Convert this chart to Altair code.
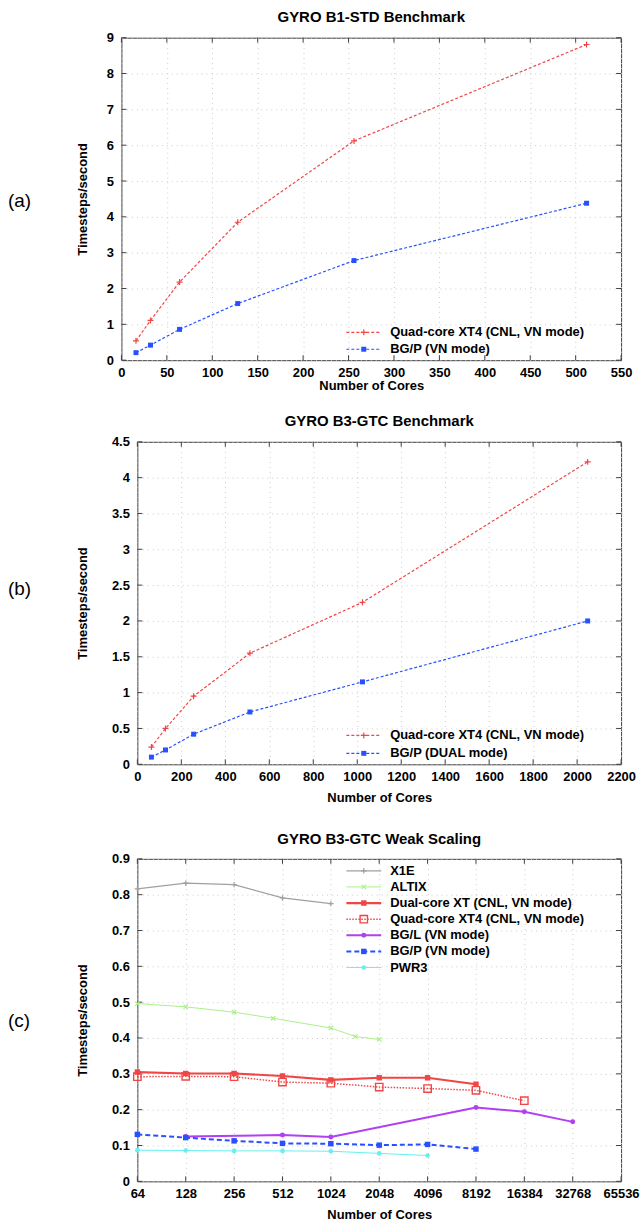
import altair as alt
import pandas as pd

FONT = "Liberation Sans"

# ---------------- data ----------------
# (a) GYRO B1-STD Benchmark
A_CORES = [16, 32, 64, 128, 256, 512]
A_XT4 = [0.54, 1.11, 2.18, 3.85, 6.12, 8.81]
A_BGP = [0.21, 0.42, 0.86, 1.58, 2.78, 4.38]
A_XTICKS = [0, 50, 100, 150, 200, 250, 300, 350, 400, 450, 500, 550]
A_YTICKS = [0, 1, 2, 3, 4, 5, 6, 7, 8, 9]
A_LABELS = ["Quad-core XT4 (CNL, VN mode)", "BG/P (VN mode)"]

# (b) GYRO B3-GTC Benchmark
B_CORES = [64, 128, 256, 512, 1024, 2048]
B_XT4 = [0.24, 0.50, 0.95, 1.55, 2.26, 4.22]
B_BGP = [0.10, 0.20, 0.42, 0.73, 1.15, 2.00]
B_XTICKS = [0, 200, 400, 600, 800, 1000, 1200, 1400, 1600, 1800, 2000, 2200]
B_YTICKS = [0, 0.5, 1, 1.5, 2, 2.5, 3, 3.5, 4, 4.5]
B_LABELS = ["Quad-core XT4 (CNL, VN mode)", "BG/P (DUAL mode)"]

# (c) GYRO B3-GTC Weak Scaling
C_X1E_CORES = [64, 128, 256, 512, 1024]
C_X1E = [0.816, 0.832, 0.828, 0.791, 0.775]
C_ALTIX_CORES = [64, 128, 256, 448, 1024, 1456, 2048]
C_ALTIX = [0.496, 0.487, 0.472, 0.455, 0.428, 0.404, 0.396]
C_DUAL_CORES = [64, 128, 256, 512, 1024, 2048, 4096, 8192]
C_DUAL = [0.305, 0.301, 0.301, 0.294, 0.283, 0.289, 0.289, 0.271]
C_QUAD_CORES = [64, 128, 256, 512, 1024, 2048, 4096, 8192, 16384]
C_QUAD = [0.292, 0.293, 0.292, 0.277, 0.274, 0.263, 0.259, 0.254, 0.225]
C_BGL_CORES = [128, 512, 1024, 8192, 16384, 32768]
C_BGL = [0.125, 0.129, 0.124, 0.206, 0.194, 0.166]
C_BGP_CORES = [64, 128, 256, 512, 1024, 2048, 4096, 8192]
C_BGP = [0.131, 0.122, 0.113, 0.106, 0.105, 0.101, 0.103, 0.090]
C_PWR3_CORES = [64, 128, 256, 512, 1024, 2048, 4096]
C_PWR3 = [0.087, 0.086, 0.085, 0.085, 0.084, 0.078, 0.072]
C_XTICKS = [64, 128, 256, 512, 1024, 2048, 4096, 8192, 16384, 32768, 65536]
C_YTICKS = [0, 0.1, 0.2, 0.3, 0.4, 0.5, 0.6, 0.7, 0.8, 0.9]
C_LABELS = ["X1E", "ALTIX", "Dual-core XT (CNL, VN mode)", "Quad-core XT4 (CNL, VN mode)",
            "BG/L (VN mode)", "BG/P (VN mode)", "PWR3"]

TITLES = ["GYRO B1-STD Benchmark", "GYRO B3-GTC Benchmark", "GYRO B3-GTC Weak Scaling"]
PANEL_TAGS = ["(a)", "(b)", "(c)"]

# ---------------- styles ----------------
RED = "#f04646"
BLUE = "#2850ff"
GRAY = "#a0a0a0"
GREEN = "#aaf08a"
PURPLE = "#b040f0"
CYAN = "#66f0f0"
PLUS = "M-1,0L1,0M0,-1L0,1"
XSH = "M-1,-1L1,1M-1,1L1,-1"

H = 324
TICK = 5
ONE = [{"k": 0}]
TITLE_SIZE = 15


def style(color, width, dash, shape, size, filled, mstroke=1.2):
    return dict(color=color, width=width, dash=dash, shape=shape, size=size,
                filled=filled, mstroke=mstroke)


def series(xs, ys, st, xenc, yenc):
    df = pd.DataFrame({"x": xs, "y": ys})
    kw = dict(color=st["color"], strokeWidth=st["width"])
    if st["dash"]:
        kw["strokeDash"] = st["dash"]
    line = alt.Chart(df).mark_line(**kw).encode(x=xenc, y=yenc)
    pts = alt.Chart(df).mark_point(shape=st["shape"], size=st["size"], filled=st["filled"],
                                   color=st["color"], opacity=1,
                                   strokeWidth=st["mstroke"]).encode(x=xenc, y=yenc)
    return [line, pts]


def text_layer(label, x, y, size, weight, align="left"):
    return alt.Chart(alt.Data(values=ONE)).mark_text(
        align=align, baseline="middle", font=FONT, fontSize=size,
        fontWeight=weight, color="black").encode(
        x=alt.value(x), y=alt.value(y), text=alt.value(label))


def legend_entry(label, ry, st, x0, x1, xt):
    kw = dict(color=st["color"], strokeWidth=st["width"])
    if st["dash"]:
        kw["strokeDash"] = st["dash"]
    ln = alt.Chart(alt.Data(values=ONE)).mark_rule(**kw).encode(
        x=alt.value(x0), x2=alt.value(x1), y=alt.value(ry))
    pt = alt.Chart(alt.Data(values=ONE)).mark_point(
        shape=st["shape"], size=st["size"], filled=st["filled"], color=st["color"],
        opacity=1, strokeWidth=st["mstroke"]).encode(
        x=alt.value((x0 + x1) / 2), y=alt.value(ry))
    return [ln, pt, text_layer(label, xt, ry, 13, "bold")]


def ticks_layers(xticks, yticks, xenc, yenc, W):
    dx = pd.DataFrame({"x": xticks})
    dy = pd.DataFrame({"y": yticks})
    c = "#404040"
    return [
        alt.Chart(dx).mark_rule(color=c).encode(x=xenc, y=alt.value(H), y2=alt.value(H - TICK)),
        alt.Chart(dx).mark_rule(color=c).encode(x=xenc, y=alt.value(0), y2=alt.value(TICK)),
        alt.Chart(dy).mark_rule(color=c).encode(y=yenc, x=alt.value(0), x2=alt.value(TICK)),
        alt.Chart(dy).mark_rule(color=c).encode(y=yenc, x=alt.value(W), x2=alt.value(W - TICK)),
    ]


def make_axes(xticks, yticks, xdomain, ydomain, titleX, xtitlepad, xlog=False):
    if xlog:
        xscale = alt.Scale(type="log", base=2, domain=xdomain)
    else:
        xscale = alt.Scale(domain=xdomain, nice=False, zero=False)
    xenc = alt.X("x:Q", scale=xscale,
                 axis=alt.Axis(values=xticks, format="d", title="Number of Cores",
                               titlePadding=xtitlepad))
    yenc = alt.Y("y:Q", scale=alt.Scale(domain=ydomain, nice=False, zero=False),
                 axis=alt.Axis(values=yticks, format="~g", title="Timesteps/second",
                               titleX=titleX, titleY=H / 2, titleAngle=270,
                               titleBaseline="bottom", titleAlign="center"))
    return xenc, yenc


def spacer():
    return alt.Chart(alt.Data(values=ONE)).mark_point(opacity=0, size=1).properties(
        width=1, height=1, view=alt.ViewBackground(strokeOpacity=0))


# ---------------- panel (a) ----------------
WA = 502
xa, ya = make_axes(A_XTICKS, A_YTICKS, [0, 550], [0, 9], -32.5, 0)
sa_red = style(RED, 1.2, [3, 2], PLUS, 36, False)
sa_blue = style(BLUE, 1.2, [3, 2], "square", 25, True)
layers_a = ticks_layers(A_XTICKS, A_YTICKS, xa, ya, WA)
layers_a += series(A_CORES, A_XT4, sa_red, xa, ya)
layers_a += series(A_CORES, A_BGP, sa_blue, xa, ya)
layers_a += legend_entry(A_LABELS[0], 296, sa_red, 226, 261, 270)
layers_a += legend_entry(A_LABELS[1], 313, sa_blue, 226, 261, 270)
layers_a.append(text_layer(PANEL_TAGS[0], -114, 164, 19, "normal"))
layers_a.append(text_layer(TITLES[0], WA / 2, -21, TITLE_SIZE, "bold", "center"))
panel_a = alt.layer(*layers_a).properties(width=WA, height=H)

# ---------------- panel (b) ----------------
WB = 486
xb, yb = make_axes(B_XTICKS, B_YTICKS, [0, 2200], [0, 4.5], -48.5, 8)
layers_b = ticks_layers(B_XTICKS, B_YTICKS, xb, yb, WB)
layers_b += series(B_CORES, B_XT4, sa_red, xb, yb)
layers_b += series(B_CORES, B_BGP, sa_blue, xb, yb)
layers_b += legend_entry(B_LABELS[0], 295, sa_red, 210, 245, 254)
layers_b += legend_entry(B_LABELS[1], 313, sa_blue, 210, 245, 254)
layers_b.append(text_layer(PANEL_TAGS[1], -130, 148, 19, "normal"))
layers_b.append(text_layer(TITLES[1], WB / 2, -21, TITLE_SIZE, "bold", "center"))
panel_b = alt.layer(*layers_b).properties(width=WB, height=H)

# ---------------- panel (c) ----------------
WC = 486
xc, yc = make_axes(C_XTICKS, C_YTICKS, [64, 65536], [0, 0.9], -48.5, 8, xlog=True)
c_styles = [
    style(GRAY, 1.2, None, PLUS, 30, False),
    style(GREEN, 1.0, None, XSH, 20, False),
    style(RED, 2.2, None, "square", 30, True),
    style(RED, 1.5, [1.5, 1.5], "square", 55, False, 1.4),
    style(PURPLE, 2.0, None, "circle", 25, True),
    style(BLUE, 2.0, [5, 3], "square", 30, True),
    style(CYAN, 1.0, None, "circle", 22, True),
]
c_series = [(C_X1E_CORES, C_X1E), (C_ALTIX_CORES, C_ALTIX), (C_DUAL_CORES, C_DUAL),
            (C_QUAD_CORES, C_QUAD), (C_BGL_CORES, C_BGL), (C_BGP_CORES, C_BGP),
            (C_PWR3_CORES, C_PWR3)]
layers_c = ticks_layers(C_XTICKS, C_YTICKS, xc, yc, WC)
for (xs, ys), st in zip(c_series, c_styles):
    layers_c += series(xs, ys, st, xc, yc)
for i, (lab, st) in enumerate(zip(C_LABELS, c_styles)):
    layers_c += legend_entry(lab, 12 + 16.2 * i, st, 210, 245, 254)
layers_c.append(text_layer(PANEL_TAGS[2], -130, 163, 19, "normal"))
layers_c.append(text_layer(TITLES[2], WC / 2, -20, TITLE_SIZE, "bold", "center"))
panel_c = alt.layer(*layers_c).properties(width=WC, height=H)

row_a = alt.hconcat(spacer(), panel_a, spacing=0)
row_b = alt.hconcat(spacer(), panel_b, spacing=0)
row_c = alt.hconcat(spacer(), panel_c, spacing=0)
top_two = alt.vconcat(row_a, row_b, spacing=20)
chart = alt.vconcat(top_two, row_c, spacing=26).properties(
    padding={"left": 6, "top": 6, "right": 0, "bottom": 0},
    background="white",
).configure_view(
    stroke="#404040", strokeWidth=1
).configure_axis(
    grid=True, gridDash=[1, 4], gridColor="#cccccc", gridWidth=1,
    ticks=False, domain=False,
    labelFont=FONT, labelFontSize=13, labelFontWeight="bold", labelColor="black",
    titleFont=FONT, titleFontSize=13, titleFontWeight="bold", titleColor="black",
    labelFlush=False, labelOverlap=False,
).configure_axisX(
    labelPadding=6,
).configure_axisY(
    labelPadding=8,
)

chart.save("out.html", embed_options={"renderer": "svg", "actions": False})
